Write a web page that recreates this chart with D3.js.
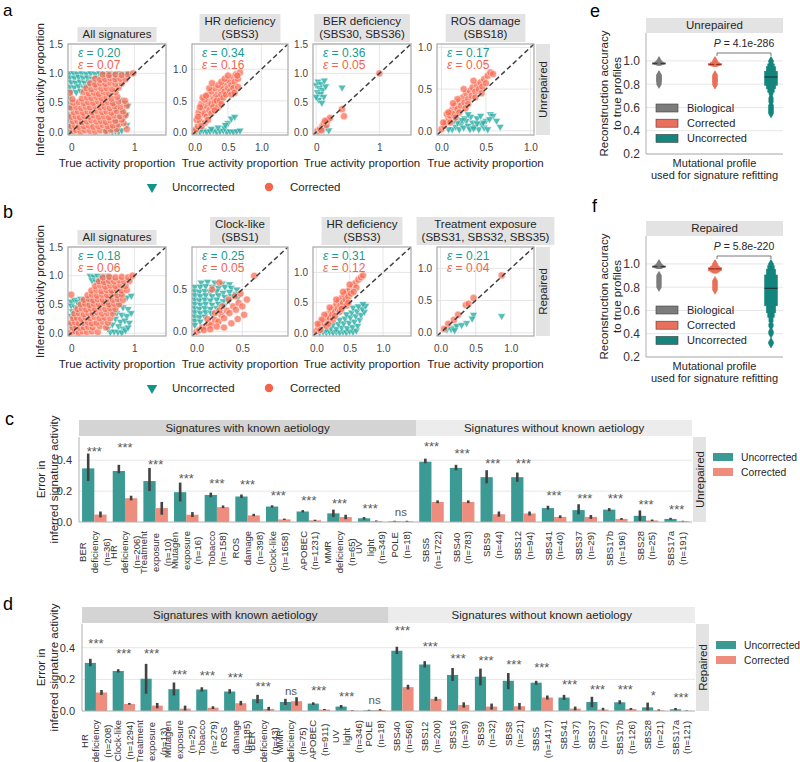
<!DOCTYPE html>
<html><head><meta charset="utf-8">
<script src="https://cdn.jsdelivr.net/npm/d3@7"></script>
<style>body{margin:0;background:#fff}</style></head>
<body><svg id="fig" width="800" height="762"></svg>
<script>
// ---------------- DATA ----------------
// scatter panels: [true, inferred]
const a1Unc=[[-0.03,1.0],[0.04,1.0],[0.1,0.99],[0.17,1.0],[0.24,0.99],[0.31,1.0],[0.38,0.99],[0.45,1.0],[0.52,0.99],[0.6,1.0],[0.68,0.99],[0.76,1.0],[0.84,0.99],[0.9,1.0],[-0.02,0.93],[0.05,0.92],[0.12,0.94],[0.19,0.92],[0.26,0.93],[0.33,0.91],[0.42,0.93],[0.5,0.92],[0.58,0.94],[0.7,0.93],[0.0,0.85],[0.07,0.84],[0.14,0.86],[0.21,0.84],[0.28,0.86],[0.36,0.85],[-0.02,0.77],[0.05,0.76],[0.12,0.78],[0.2,0.76],[0.27,0.79],[0.0,0.69],[0.08,0.68],[0.15,0.7],[-0.03,0.6],[-0.03,0.5],[-0.02,0.41],[-0.03,0.3],[-0.02,0.2],[-0.03,0.1],[-0.02,0.02],[0.55,0.02],[0.6,0.03],[0.65,0.01],[0.7,0.02],[0.75,0.01],[0.8,0.03],[0.62,0.08],[0.72,0.1],[0.65,0.5],[0.72,0.45],[0.78,0.55],[0.85,0.5],[0.9,0.45],[0.7,0.38],[0.8,0.35],[0.87,0.3],[0.75,0.25],[0.83,0.22],[0.7,0.18],[0.88,0.12]];
const a1Corr=[[0.02,0.02],[0.08,0.03],[0.15,0.01],[0.22,0.03],[0.3,0.02],[0.38,0.01],[0.46,0.03],[0.55,0.02],[0.63,0.04],[0.72,0.05],[0.88,0.05],[0.0,0.1],[0.06,0.11],[0.12,0.09],[0.2,0.1],[0.28,0.11],[0.35,0.09],[0.43,0.1],[0.5,0.12],[0.58,0.1],[0.66,0.11],[0.75,0.13],[0.83,0.15],[0.03,0.18],[0.1,0.19],[0.17,0.17],[0.25,0.18],[0.32,0.2],[0.4,0.18],[0.47,0.19],[0.55,0.17],[0.62,0.2],[0.7,0.19],[0.8,0.21],[0.0,0.26],[0.07,0.27],[0.14,0.25],[0.21,0.27],[0.29,0.26],[0.36,0.28],[0.44,0.26],[0.52,0.27],[0.6,0.25],[0.68,0.28],[0.77,0.27],[0.86,0.29],[0.04,0.34],[0.11,0.35],[0.19,0.33],[0.26,0.35],[0.33,0.34],[0.41,0.36],[0.49,0.34],[0.56,0.35],[0.64,0.33],[0.72,0.36],[0.82,0.35],[0.0,0.42],[0.08,0.43],[0.16,0.41],[0.23,0.43],[0.3,0.42],[0.38,0.44],[0.46,0.42],[0.53,0.43],[0.61,0.41],[0.69,0.44],[0.78,0.43],[0.88,0.45],[0.03,0.5],[0.12,0.51],[0.2,0.49],[0.27,0.51],[0.35,0.5],[0.43,0.52],[0.5,0.5],[0.58,0.51],[0.66,0.49],[0.75,0.52],[0.85,0.53],[0.02,0.56],[0.17,0.57],[0.25,0.59],[0.32,0.58],[0.4,0.6],[0.48,0.58],[0.56,0.59],[0.64,0.57],[0.73,0.6],[-0.02,0.67],[0.2,0.68],[0.28,0.66],[0.36,0.67],[0.44,0.65],[0.52,0.68],[0.6,0.66],[0.7,0.68],[0.24,0.75],[0.32,0.73],[0.4,0.76],[0.48,0.74],[0.56,0.75],[0.65,0.73],[0.75,0.76],[0.3,0.83],[0.38,0.81],[0.46,0.83],[0.54,0.82],[0.62,0.84],[0.7,0.82],[0.8,0.83],[0.38,0.91],[0.46,0.89],[0.54,0.9],[0.62,0.92],[0.7,0.9],[0.78,0.91],[0.86,0.9],[0.5,0.98],[0.6,0.97],[0.7,0.98],[0.8,0.97],[0.9,0.98],[0.98,1.0]];
const a2Unc=[[0.03,0.02],[0.08,0.01],[0.13,0.03],[0.18,0.01],[0.23,0.02],[0.28,0.03],[0.33,0.01],[0.38,0.02],[0.43,0.03],[0.48,0.01],[0.53,0.02],[0.58,0.01],[0.63,0.02],[0.68,0.03],[0.1,0.05],[0.25,0.06],[0.45,0.07],[0.5,0.15],[0.55,0.22],[0.6,0.25],[0.46,0.12],[0.35,0.08]];
const a2Corr=[[0.0,0.02],[0.02,0.05],[0.05,0.1],[0.03,0.2],[0.08,0.18],[0.1,0.28],[0.06,0.32],[0.12,0.38],[0.15,0.3],[0.18,0.42],[0.1,0.45],[0.2,0.5],[0.15,0.52],[0.22,0.35],[0.25,0.45],[0.28,0.55],[0.2,0.6],[0.3,0.48],[0.32,0.6],[0.25,0.65],[0.35,0.55],[0.38,0.68],[0.3,0.7],[0.4,0.6],[0.42,0.72],[0.35,0.75],[0.45,0.65],[0.48,0.78],[0.4,0.8],[0.5,0.7],[0.52,0.82],[0.45,0.85],[0.55,0.75],[0.58,0.88],[0.5,0.9],[0.6,0.8],[0.62,0.92],[0.65,0.85],[0.68,0.95],[0.08,0.4],[0.12,0.55],[0.05,0.25],[0.18,0.25],[0.22,0.7],[0.28,0.4],[0.33,0.5],[0.38,0.5],[0.43,0.55],[0.47,0.6],[0.53,0.65],[0.58,0.7],[0.15,0.15],[0.25,0.3],[0.35,0.4],[0.1,0.1],[0.2,0.2],[0.3,0.35],[0.4,0.45],[0.55,0.6],[0.17,0.58],[0.26,0.78],[0.6,0.63],[0.65,0.72],[0.64,0.9]];
const a3Unc=[[0.0,0.8],[0.03,0.86],[0.08,0.82],[0.05,0.75],[0.1,0.72],[0.02,0.68],[0.07,0.65],[0.12,0.6],[0.04,0.55],[0.09,0.5],[0.15,0.78],[0.0,0.6],[0.13,0.88],[0.41,0.76],[0.05,0.02],[0.12,0.04],[0.2,0.03],[0.1,0.1],[0.16,0.08]];
const a3Corr=[[0.02,0.02],[0.06,0.05],[0.1,0.08],[0.12,0.15],[0.16,0.12],[0.18,0.2],[0.08,0.03],[0.22,0.24],[0.41,0.39],[0.44,0.27],[1.0,1.0],[0.14,0.19]];
const a4Unc=[[0.12,0.02],[0.16,0.05],[0.2,0.02],[0.22,0.08],[0.25,0.04],[0.28,0.12],[0.3,0.06],[0.32,0.02],[0.35,0.1],[0.38,0.05],[0.4,0.15],[0.42,0.02],[0.45,0.08],[0.48,0.04],[0.5,0.12],[0.52,0.02],[0.55,0.2],[0.58,0.18],[0.54,0.14],[0.18,0.1],[0.26,0.15],[0.33,0.17],[0.08,0.02],[0.14,0.12],[0.44,0.18],[0.36,0.03],[0.47,0.1],[0.23,0.13],[0.3,0.2],[0.4,0.09],[0.62,0.12],[0.66,0.05]];
const a4Corr=[[0.0,0.02],[0.03,0.06],[0.05,0.1],[0.08,0.14],[0.06,0.2],[0.1,0.18],[0.12,0.25],[0.14,0.2],[0.15,0.3],[0.18,0.26],[0.2,0.35],[0.22,0.3],[0.24,0.4],[0.26,0.34],[0.28,0.45],[0.3,0.38],[0.32,0.48],[0.34,0.42],[0.35,0.52],[0.38,0.47],[0.4,0.55],[0.42,0.5],[0.44,0.58],[0.46,0.53],[0.48,0.62],[0.5,0.57],[0.52,0.66],[0.55,0.7],[0.58,0.68],[0.1,0.1],[0.2,0.22],[0.3,0.32],[0.18,0.38],[0.25,0.5],[0.36,0.6],[0.08,0.22],[0.45,0.45],[0.02,0.1],[0.13,0.33],[0.16,0.16],[0.27,0.27],[0.38,0.4]];
const b1Unc=[[0.3,1.0],[0.36,0.98],[0.42,1.0],[0.48,0.97],[0.54,1.0],[0.6,0.98],[0.33,0.92],[0.39,0.9],[0.45,0.93],[0.51,0.9],[0.57,0.92],[0.63,0.95],[0.65,0.7],[0.72,0.65],[0.8,0.68],[0.88,0.62],[0.95,0.65],[0.75,0.6],[0.0,0.55],[0.05,0.58],[0.1,0.55],[0.15,0.6],[0.2,0.57],[0.25,0.6],[0.3,0.55],[0.0,0.48],[0.06,0.45],[0.12,0.5],[0.18,0.47],[0.24,0.52],[0.02,0.38],[0.08,0.35],[0.0,0.3],[0.05,0.25],[0.0,0.15],[0.03,0.08],[0.6,0.5],[0.68,0.45],[0.75,0.5],[0.82,0.45],[0.9,0.42],[0.65,0.38],[0.72,0.35],[0.8,0.32],[0.88,0.3],[0.95,0.35],[0.7,0.25],[0.78,0.2],[0.85,0.22],[0.92,0.18],[0.75,0.12],[0.82,0.08],[0.62,0.02],[0.68,0.03],[0.74,0.02],[0.8,0.01],[0.86,0.05],[0.9,0.1],[0.65,0.15],[0.58,0.08]];
const b1Corr=[[0.0,0.02],[0.06,0.03],[0.12,0.01],[0.18,0.03],[0.25,0.02],[0.33,0.03],[0.42,0.02],[0.02,0.1],[0.08,0.11],[0.14,0.09],[0.2,0.1],[0.27,0.11],[0.34,0.1],[0.45,0.12],[0.55,0.1],[0.0,0.18],[0.06,0.19],[0.12,0.17],[0.19,0.18],[0.26,0.19],[0.33,0.17],[0.4,0.18],[0.5,0.2],[0.58,0.18],[0.03,0.26],[0.09,0.27],[0.16,0.25],[0.23,0.27],[0.3,0.26],[0.37,0.28],[0.45,0.26],[0.53,0.27],[0.62,0.26],[0.05,0.34],[0.12,0.35],[0.2,0.33],[0.27,0.35],[0.34,0.34],[0.41,0.36],[0.49,0.34],[0.57,0.35],[0.66,0.34],[0.1,0.42],[0.17,0.43],[0.24,0.41],[0.31,0.43],[0.38,0.42],[0.46,0.44],[0.54,0.42],[0.62,0.43],[0.7,0.42],[0.15,0.5],[0.22,0.51],[0.29,0.49],[0.36,0.51],[0.44,0.5],[0.52,0.52],[0.6,0.5],[0.68,0.51],[0.76,0.5],[0.2,0.58],[0.28,0.59],[0.35,0.57],[0.42,0.59],[0.5,0.58],[0.58,0.6],[0.66,0.58],[0.74,0.59],[0.82,0.58],[0.0,0.67],[0.26,0.66],[0.33,0.67],[0.41,0.65],[0.49,0.67],[0.57,0.66],[0.65,0.68],[0.73,0.66],[0.8,0.67],[0.32,0.74],[0.4,0.75],[0.48,0.73],[0.56,0.75],[0.64,0.74],[0.72,0.76],[0.8,0.74],[0.88,0.75],[0.38,0.82],[0.46,0.83],[0.54,0.81],[0.62,0.83],[0.7,0.82],[0.78,0.84],[0.86,0.82],[0.44,0.9],[0.52,0.89],[0.6,0.91],[0.68,0.9],[0.76,0.92],[0.84,0.9],[0.92,0.91],[0.5,0.97],[0.6,0.98],[0.7,0.97],[0.8,0.98],[0.9,0.97],[0.97,1.0]];
const b2Unc=[[0.05,0.58],[0.12,0.59],[0.2,0.58],[0.28,0.57],[0.36,0.56],[-0.02,0.53],[0.04,0.53],[0.1,0.54],[0.17,0.53],[0.24,0.52],[0.31,0.53],[0.38,0.52],[0.44,0.5],[-0.02,0.48],[0.03,0.47],[0.09,0.48],[0.15,0.47],[0.22,0.48],[0.29,0.46],[0.36,0.47],[0.43,0.45],[-0.02,0.43],[0.04,0.42],[0.1,0.43],[0.17,0.42],[0.24,0.43],[0.31,0.41],[0.38,0.42],[0.45,0.4],[-0.02,0.38],[0.03,0.37],[0.09,0.38],[0.15,0.37],[0.22,0.38],[0.29,0.36],[0.36,0.37],[-0.02,0.33],[0.04,0.32],[0.1,0.33],[0.17,0.32],[0.24,0.33],[0.3,0.31],[-0.02,0.28],[0.03,0.27],[0.09,0.28],[0.15,0.27],[0.22,0.28],[-0.02,0.23],[0.04,0.22],[0.1,0.23],[0.16,0.22],[-0.02,0.18],[0.03,0.17],[0.09,0.18],[-0.02,0.13],[0.04,0.12],[-0.02,0.08]];
const b2Corr=[[0.0,0.0],[0.03,0.02],[0.06,0.05],[0.1,0.06],[0.13,0.1],[0.16,0.08],[0.2,0.14],[0.24,0.12],[0.27,0.2],[0.3,0.16],[0.33,0.25],[0.36,0.22],[0.4,0.3],[0.43,0.26],[0.46,0.34],[0.5,0.3],[0.08,0.02],[0.15,0.03],[0.22,0.06],[0.3,0.05],[0.38,0.1],[0.45,0.15],[0.52,0.2],[0.2,0.22],[0.28,0.3],[0.35,0.38],[0.42,0.42],[0.48,0.45],[0.25,0.58],[0.17,0.5],[0.63,0.66],[0.55,0.38],[0.12,0.15],[0.25,0.25]];
const b3Unc=[[0.05,0.01],[0.1,0.02],[0.15,0.01],[0.2,0.02],[0.25,0.01],[0.3,0.02],[0.35,0.01],[0.4,0.02],[0.45,0.01],[0.5,0.03],[0.55,0.02],[0.6,0.04],[0.15,0.06],[0.22,0.08],[0.3,0.07],[0.38,0.09],[0.46,0.08],[0.54,0.1],[0.62,0.12],[0.25,0.14],[0.33,0.15],[0.41,0.16],[0.49,0.17],[0.57,0.19],[0.65,0.22],[0.35,0.22],[0.43,0.24],[0.51,0.26],[0.59,0.28],[0.67,0.3],[0.72,0.35],[0.45,0.31],[0.53,0.34],[0.61,0.36],[0.69,0.4],[0.74,0.45],[0.55,0.42],[0.63,0.44],[0.7,0.48]];
const b3Corr=[[0.0,0.03],[0.03,0.08],[0.05,0.14],[0.08,0.1],[0.1,0.2],[0.12,0.15],[0.14,0.26],[0.16,0.2],[0.18,0.32],[0.2,0.25],[0.22,0.37],[0.24,0.3],[0.26,0.42],[0.28,0.35],[0.3,0.48],[0.32,0.4],[0.34,0.53],[0.36,0.45],[0.38,0.58],[0.4,0.5],[0.42,0.63],[0.44,0.55],[0.46,0.68],[0.48,0.6],[0.5,0.72],[0.52,0.65],[0.55,0.78],[0.58,0.82],[0.6,0.75],[0.63,0.88],[0.67,0.92],[0.7,0.95],[0.06,0.05],[0.15,0.12],[0.25,0.22],[0.35,0.35],[0.45,0.45],[0.12,0.3],[0.2,0.42],[0.3,0.55],[0.4,0.68],[0.5,0.8],[0.08,0.22],[0.18,0.15],[0.28,0.28],[0.38,0.4],[0.48,0.5],[0.56,0.68],[0.02,0.15]];
const b4Unc=[[0.09,0.05],[0.19,0.08],[0.23,0.11],[0.37,0.15],[0.47,0.28],[0.87,0.26],[0.15,0.06],[0.3,0.12],[0.45,0.22],[0.2,0.04]];
const b4Corr=[[0.11,0.14],[0.19,0.2],[0.36,0.43],[0.4,0.45],[0.47,0.54],[0.87,0.89],[0.05,0.06],[0.25,0.28]];

const titlesA=[["All signatures"],["HR deficiency","(SBS3)"],["BER deficiency","(SBS30, SBS36)"],["ROS damage","(SBS18)"]];
const titlesB=[["All signatures"],["Clock-like","(SBS1)"],["HR deficiency","(SBS3)"],["Treatment exposure","(SBS31, SBS32, SBS35)"]];
const epsUncA=[0.20,0.34,0.36,0.17], epsCorA=[0.07,0.16,0.05,0.05];
const epsUncB=[0.18,0.25,0.31,0.21], epsCorB=[0.06,0.05,0.12,0.04];
const limitsA=[[-0.05,1.5],[-0.04,1.4],[-0.05,1.5],[-0.05,1.04]];
const limitsB=[[-0.05,1.5],[-0.05,1.0],[-0.05,1.42],[-0.05,1.33]];
const ticksA=[[0,1],[0,0.5,1],[0,1],[0,0.5,1]], yticksA=[[0,0.5,1,1.5],[0,0.5,1],[0,0.5,1,1.5],[0,0.5,1]];
const ticksB=[[0,1],[0,0.5],[0,0.5,1],[0,0.5,1]], yticksB=[[0,0.5,1,1.5],[0,0.5],[0,0.5,1],[0,0.5,1]];

// bar panel c (Unrepaired)
const catsC=["BER|deficiency|(n=36)","HR|deficiency|(n=206)","Treatment|exposure|(n=10)","Mutagen|exposure|(n=16)","Tobacco|(n=158)","ROS|damage|(n=398)","Clock-like|(n=1658)","APOBEC|(n=1231)","MMR|deficiency|(n=65)","UV|light|(n=349)","POLE|(n=18)","SBS5|(n=1722)","SBS40|(n=783)","SBS9|(n=44)","SBS12|(n=94)","SBS41|(n=40)","SBS37|(n=29)","SBS17b|(n=196)","SBS28|(n=25)","SBS17a|(n=191)"];
const uncC=[0.347,0.33,0.265,0.193,0.175,0.165,0.1,0.068,0.056,0.024,0.004,0.39,0.35,0.29,0.29,0.09,0.077,0.08,0.04,0.02];
const uncCLo=[0.265,0.315,0.2,0.133,0.16,0.155,0.093,0.062,0.032,0.016,0.001,0.38,0.335,0.25,0.26,0.08,0.05,0.07,0.008,0.015];
const uncCHi=[0.443,0.37,0.35,0.255,0.19,0.178,0.108,0.077,0.08,0.032,0.008,0.41,0.37,0.335,0.32,0.105,0.115,0.09,0.075,0.027];
const corC=[0.048,0.154,0.09,0.047,0.096,0.043,0.017,0.011,0.032,0.006,0.004,0.13,0.13,0.05,0.055,0.033,0.033,0.02,0.01,0.005];
const corCLo=[0.03,0.14,0.047,0.032,0.09,0.037,0.013,0.007,0.018,0.003,0.0,0.122,0.122,0.035,0.042,0.025,0.02,0.014,0.005,0.002];
const corCHi=[0.068,0.17,0.13,0.064,0.107,0.053,0.022,0.015,0.047,0.01,0.008,0.14,0.14,0.068,0.068,0.043,0.045,0.026,0.016,0.008];
const sigC=["***","***","***","***","***","***","***","***","***","***","ns","***","***","***","***","***","***","***","***","***"];
const sigCY=[0.475,0.50,0.39,0.30,0.27,0.26,0.19,0.16,0.14,0.107,0.062,0.51,0.46,0.40,0.40,0.19,0.17,0.17,0.13,0.10];
// bar panel d (Repaired)
const catsD=["HR|deficiency|(n=208)","Clock-like|(n=1294)","Treatment|exposure|(n=13)","Mutagen|exposure|(n=25)","Tobacco|(n=279)","ROS|damage|(n=185)","BER|deficiency|(n=43)","MMR|deficiency|(n=75)","APOBEC|(n=911)","UV|light|(n=346)","POLE|(n=18)","SBS40|(n=566)","SBS12|(n=200)","SBS16|(n=39)","SBS9|(n=32)","SBS8|(n=21)","SBS5|(n=1417)","SBS41|(n=37)","SBS37|(n=27)","SBS17b|(n=126)","SBS28|(n=21)","SBS17a|(n=121)"];
const uncD=[0.304,0.253,0.204,0.138,0.136,0.123,0.075,0.057,0.047,0.028,0.004,0.381,0.294,0.228,0.217,0.191,0.179,0.085,0.057,0.055,0.023,0.011];
const uncDLo=[0.283,0.243,0.109,0.098,0.123,0.11,0.049,0.038,0.038,0.017,0.001,0.36,0.275,0.19,0.162,0.138,0.166,0.07,0.024,0.043,0.0,0.003];
const uncDHi=[0.33,0.264,0.298,0.18,0.15,0.138,0.102,0.077,0.055,0.038,0.008,0.406,0.315,0.272,0.268,0.24,0.191,0.102,0.09,0.068,0.053,0.019];
const corD=[0.117,0.045,0.034,0.015,0.021,0.049,0.013,0.062,0.009,0.002,0.006,0.151,0.077,0.038,0.028,0.03,0.085,0.015,0.009,0.013,0.004,0.001];
const corDLo=[0.102,0.04,0.017,0.0,0.013,0.036,0.0,0.034,0.005,0.0,0.0,0.136,0.064,0.021,0.009,0.009,0.072,0.002,0.002,0.007,0.0,0.0];
const corDHi=[0.133,0.051,0.051,0.034,0.03,0.064,0.026,0.087,0.013,0.005,0.012,0.166,0.09,0.055,0.047,0.051,0.098,0.028,0.02,0.019,0.01,0.004];
const sigD=["***","***","***","***","***","***","***","ns","***","***","ns","***","***","***","***","***","***","***","***","***","*","***"];
const sigDY=[0.447,0.385,0.385,0.25,0.245,0.23,0.172,0.123,0.151,0.113,0.066,0.528,0.428,0.349,0.34,0.31,0.296,0.187,0.157,0.157,0.115,0.102];

// boxen panels e/f
const groupsEF=["Biological","Corrected","Uncorrected"];
const medE=[0.978,0.97,0.862];
const levelsE=[[[0.972,0.984],[0.968,0.99],[0.965,0.995],[0.962,1.0]],[[0.963,0.977],[0.958,0.985],[0.955,0.992],[0.952,1.0]],[[0.79,0.912],[0.76,0.95],[0.73,0.975],[0.71,0.99],[0.69,1.0]]];
const outE=[[1.0,0.998,0.88,0.875,0.87,0.865,0.86,0.855,0.85,0.845,0.84,0.835,0.83,0.825,0.82,0.81,0.8],[1.0,0.998,0.88,0.872,0.866,0.86,0.854,0.848,0.842,0.836,0.83,0.824,0.818,0.81,0.8,0.795],[1.0,0.998,0.68,0.665,0.65,0.62,0.612,0.604,0.596,0.588,0.58,0.572,0.564,0.556,0.548]];
const medF=[0.977,0.958,0.79];
const levelsF=[[[0.97,0.983],[0.966,0.99],[0.962,0.996],[0.958,1.0]],[[0.94,0.97],[0.93,0.98],[0.925,0.99],[0.92,1.0]],[[0.64,0.905],[0.58,0.955],[0.54,0.985],[0.5,1.0]]];
const outF=[[1.0,0.998,0.9,0.89,0.88,0.87,0.86,0.85,0.84,0.83,0.82,0.81,0.8],[1.0,0.998,0.855,0.848,0.84,0.832,0.824,0.816,0.808,0.8,0.792,0.784,0.776],[1.0,0.998,0.48,0.465,0.42,0.41,0.4,0.33,0.32,0.315]];
const pValE="4.1e-286", pValF="5.8e-220";

// ---------------- DRAWING ----------------
const FONT='"Liberation Sans", Arial, Helvetica, sans-serif';
const TXT="#262626";
const svg=d3.select("#fig");
const TEAL_PT="#22aaa1", RED_PT="#fa6a50", TEAL="#179a91", TOMATO="#f4644a";
const BAR_T="#3c9a94", BAR_R="#ee8d7d";

function txt(g,x,y,s,size,opt={}){
  const t=g.append("text").attr("x",x).attr("y",y).attr("font-family",FONT).attr("font-size",size).attr("fill",opt.fill||TXT).text(s);
  if(opt.anchor) t.attr("text-anchor",opt.anchor);
  if(opt.rot!==undefined) t.attr("transform",`rotate(${opt.rot},${x},${y})`);
  if(opt.base) t.attr("dominant-baseline",opt.base);
  if(opt.italic) t.attr("font-style","italic");
  return t;
}
let clipId=0;
function scatter(p){
  const [lo,hi]=p.lim;
  const x=d3.scaleLinear().domain([lo,hi]).range([p.x0,p.x1]);
  const y=d3.scaleLinear().domain([lo,hi]).range([p.y1,p.y0]);
  const g=svg.append("g");
  g.append("g").selectAll("line").data(p.xt).join("line").attr("x1",d=>x(d)).attr("x2",d=>x(d)).attr("y1",p.y0).attr("y2",p.y1).attr("stroke","#e6e6e6");
  g.append("g").selectAll("line").data(p.yt).join("line").attr("y1",d=>y(d)).attr("y2",d=>y(d)).attr("x1",p.x0).attr("x2",p.x1).attr("stroke","#e6e6e6");
  const xf=p.xt.length===2&&p.xt[1]===1?d3.format("d"):d3.format(".1f");
  const ax=g.append("g").attr("transform",`translate(0,${p.y1})`).call(d3.axisBottom(x).tickValues(p.xt).tickFormat(xf).tickSize(0).tickPadding(9));
  ax.select(".domain").remove();
  ax.selectAll("text").attr("font-family",FONT).attr("font-size",10).attr("fill","#444");
  const ay=g.append("g").attr("transform",`translate(${p.x0},0)`).call(d3.axisLeft(y).tickValues(p.yt).tickFormat(d3.format(".1f")).tickSize(0).tickPadding(5));
  ay.select(".domain").remove();
  ay.selectAll("text").attr("font-family",FONT).attr("font-size",10).attr("fill","#444");
  const id="clip"+(clipId++);
  g.append("clipPath").attr("id",id).append("rect").attr("x",p.x0).attr("y",p.y0).attr("width",p.x1-p.x0).attr("height",p.y1-p.y0);
  const pts=g.append("g").attr("clip-path",`url(#${id})`);
  const tri=d3.symbol(d3.symbolTriangle,26)();
  pts.append("g").selectAll("path").data(p.unc).join("path").attr("d",tri)
    .attr("transform",d=>`translate(${x(d[0])},${y(d[1])}) rotate(180)`)
    .attr("fill",TEAL_PT).attr("fill-opacity",0.78).attr("stroke","#fff").attr("stroke-width",0.4);
  pts.append("g").selectAll("circle").data(p.cor).join("circle").attr("cx",d=>x(d[0])).attr("cy",d=>y(d[1])).attr("r",3.6)
    .attr("fill",RED_PT).attr("fill-opacity",0.72).attr("stroke","#fff").attr("stroke-width",0.5);
  pts.append("line").attr("x1",x(lo)).attr("y1",y(lo)).attr("x2",x(hi)).attr("y2",y(hi)).attr("stroke","#404040").attr("stroke-width",1.5).attr("stroke-dasharray","5,3");
  g.append("rect").attr("x",p.x0).attr("y",p.y0).attr("width",p.x1-p.x0).attr("height",p.y1-p.y0).attr("fill","none").attr("stroke","#a8a8a8").attr("stroke-width",1.2);
  const e1=txt(g,p.x0+10,p.y0+12.5,"",12,{fill:TEAL});
  e1.append("tspan").attr("font-style","italic").text("ε"); e1.append("tspan").text(" = "+p.eU.toFixed(2));
  const e2=txt(g,p.x0+10,p.y0+25,"",12,{fill:TOMATO});
  e2.append("tspan").attr("font-style","italic").text("ε"); e2.append("tspan").text(" = "+p.eC.toFixed(2));
  const cx=(p.x0+p.x1)/2, n=p.title.length;
  const tg=g.append("g");
  const ts=p.title.map((s,i)=>txt(tg,cx,p.y0-2-4-(n-1-i)*13,s,11.5,{anchor:"middle"}));
  const w=d3.max(ts,t=>t.node().getComputedTextLength())+10;
  tg.insert("rect","text").attr("x",cx-w/2).attr("y",p.y0-2-(n===1?15:28)).attr("width",w).attr("height",n===1?15:28).attr("fill","#e3e3e3");
  txt(g,cx,p.y1+32,"True activity proportion",11.5,{anchor:"middle"});
}
const colsX=[[68,166],[192,288],[313,411],[437,534]];
const dataA=[[a1Unc,a1Corr],[a2Unc,a2Corr],[a3Unc,a3Corr],[a4Unc,a4Corr]];
const dataB=[[b1Unc,b1Corr],[b2Unc,b2Corr],[b3Unc,b3Corr],[b4Unc,b4Corr]];
function scatterRow(y0,y1,titles,eU,eC,lims,xt,yt,data,strip,legY){
  for(let i=0;i<4;i++) scatter({x0:colsX[i][0],x1:colsX[i][1],y0,y1,lim:lims[i],xt:xt[i],yt:yt[i],title:titles[i],eU:eU[i],eC:eC[i],unc:data[i][0],cor:data[i][1]});
  svg.append("rect").attr("x",536).attr("y",y0).attr("width",14).attr("height",y1-y0).attr("fill","#e3e3e3");
  txt(svg,543,(y0+y1)/2,strip,11.5,{anchor:"middle",base:"central",rot:-90});
  txt(svg,40,(y0+y1)/2,"Inferred activity proportion",11.5,{anchor:"middle",base:"central",rot:-90});
  svg.append("path").attr("d",d3.symbol(d3.symbolTriangle,48)()).attr("transform",`translate(152,${legY}) rotate(180)`).attr("fill","#12948b");
  txt(svg,172,legY+4,"Uncorrected",11.5);
  svg.append("circle").attr("cx",269).attr("cy",legY).attr("r",4.2).attr("fill",TOMATO);
  txt(svg,290,legY+4,"Corrected",11.5);
}
scatterRow(44,135,titlesA,epsUncA,epsCorA,limitsA,ticksA,yticksA,dataA,"Unrepaired",187);
scatterRow(247,336,titlesB,epsUncB,epsCorB,limitsB,ticksB,yticksB,dataB,"Repaired",388);

// bar panels
function barPanel(p){
  const n=p.cats.length;
  const x=d3.scaleBand().domain(d3.range(n)).range([p.x0,p.x1]);
  const bw=x.bandwidth();
  const sub=d3.scaleBand().domain([0,1]).range([0.1*bw,0.9*bw]);
  const y=d3.scaleLinear().domain([0,0.55]).range([p.y1,p.y0]);
  const g=svg.append("g");
  g.append("g").selectAll("line").data([0.2,0.4]).join("line").attr("x1",p.x0).attr("x2",p.x1).attr("y1",d=>y(d)).attr("y2",d=>y(d)).attr("stroke","#e6e6e6");
  const xk=x(p.nKnown);
  g.append("rect").attr("x",p.x0).attr("y",p.y0-17).attr("width",xk-p.x0).attr("height",16).attr("fill","#d4d4d4");
  g.append("rect").attr("x",xk).attr("y",p.y0-17).attr("width",p.x1-xk).attr("height",16).attr("fill","#ececec");
  txt(g,(p.x0+xk)/2,p.y0-5,"Signatures with known aetiology",11.5,{anchor:"middle"});
  txt(g,(xk+p.x1)/2,p.y0-5,"Signatures without known aetiology",11.5,{anchor:"middle"});
  g.append("rect").attr("x",p.x1+1).attr("y",p.y0).attr("width",13).attr("height",p.y1-p.y0).attr("fill","#e3e3e3");
  txt(g,p.x1+7.5,(p.y0+p.y1)/2,p.strip,11.5,{anchor:"middle",base:"central",rot:-90});
  const series=[[p.unc,p.uncLo,p.uncHi,BAR_T],[p.cor,p.corLo,p.corHi,BAR_R]];
  series.forEach((s,k)=>{
    g.append("g").selectAll("rect").data(s[0]).join("rect")
      .attr("x",(d,i)=>x(i)+sub(k)).attr("width",sub.bandwidth()).attr("y",d=>y(d)).attr("height",d=>y(0)-y(d)).attr("fill",s[3]);
  });
  series.forEach((s,k)=>{
    g.append("g").selectAll("line").data(s[0]).join("line")
      .attr("x1",(d,i)=>x(i)+sub(k)+sub.bandwidth()/2).attr("x2",(d,i)=>x(i)+sub(k)+sub.bandwidth()/2)
      .attr("y1",(d,i)=>y(s[1][i])).attr("y2",(d,i)=>y(s[2][i])).attr("stroke","#424242").attr("stroke-width",2.6);
  });
  p.sig.forEach((s,i)=>{
    const star=s!=="ns";
    txt(g,x(i)+bw/2,y(p.sigY[i])+(star?7.5:3.5),s,star?13:11.5,{anchor:"middle",fill:"#5a5a5a"});
  });
  g.append("line").attr("x1",p.x0).attr("x2",p.x0).attr("y1",p.y0).attr("y2",p.y1).attr("stroke","#b0b0b0");
  g.append("line").attr("x1",p.x0).attr("x2",p.x1).attr("y1",p.y1).attr("y2",p.y1).attr("stroke","#b0b0b0");
  const ay=g.append("g").attr("transform",`translate(${p.x0},0)`).call(d3.axisLeft(y).tickValues([0,0.2,0.4]).tickFormat(d3.format(".1f")).tickSize(0).tickPadding(7));
  ay.select(".domain").remove();
  ay.selectAll("text").attr("font-family",FONT).attr("font-size",11).attr("fill","#333");
  const ax=g.append("g").attr("transform",`translate(0,${p.y1})`).call(d3.axisBottom(x).tickSize(0).tickFormat(()=>""));
  ax.select(".domain").remove();
  ax.selectAll(".tick").each(function(d){
    const tk=d3.select(this); tk.select("text").remove();
    const lines=p.cats[d].split("|");
    const ts=lines.map(l=>tk.append("text").attr("font-family",FONT).attr("font-size",9.5).attr("fill","#333").attr("text-anchor","middle").attr("dominant-baseline","central").text(l));
    const L=d3.max(ts,t=>t.node().getComputedTextLength());
    const nl=lines.length, lh=11.7;
    ts.forEach((t,i)=>t.attr("transform",`translate(${(i-(nl-1)/2)*lh},${9+L/2}) rotate(-90)`));
  });
  txt(g,41,(p.y0+p.y1)/2,"Error in",11.5,{anchor:"middle",base:"central",rot:-90});
  txt(g,54,(p.y0+p.y1)/2,"inferred signature activity",11.5,{anchor:"middle",base:"central",rot:-90});
  g.append("rect").attr("x",p.legX).attr("y",p.legY-4).attr("width",20).attr("height",8).attr("fill",BAR_T);
  txt(g,p.legX+28,p.legY+4,"Uncorrected",10.3);
  g.append("rect").attr("x",p.legX).attr("y",p.legY+11).attr("width",20).attr("height",8).attr("fill",BAR_R);
  txt(g,p.legX+28,p.legY+19,"Corrected",10.3);
}
barPanel({x0:79,x1:692,y0:437,y1:522,cats:catsC,unc:uncC,uncLo:uncCLo,uncHi:uncCHi,cor:corC,corLo:corCLo,corHi:corCHi,sig:sigC,sigY:sigCY,nKnown:11,strip:"Unrepaired",legX:713,legY:457});
barPanel({x0:82,x1:695,y0:624,y1:711,cats:catsD,unc:uncD,uncLo:uncDLo,uncHi:uncDHi,cor:corD,corLo:corDLo,corHi:corDHi,sig:sigD,sigY:sigDY,nKnown:11,strip:"Repaired",legX:716,legY:645});

// boxen panels
const GCOL=["#7c7c7c","#e9705a","#14857d"], MCOL=["#3a3a3a","#9e2f1f","#1d3f3c"];
function boxenPanel(p){
  const y=d3.scaleLinear().domain([0.2,1.24]).range([p.y1,p.y0]);
  const x=d3.scalePoint().domain(groupsEF).range([659,771]);
  const g=svg.append("g");
  g.append("g").selectAll("line").data([0.2,0.4,0.6,0.8,1.0]).join("line").attr("x1",646).attr("x2",783).attr("y1",d=>y(d)).attr("y2",d=>y(d)).attr("stroke","#e6e6e6");
  g.append("rect").attr("x",646).attr("y",p.y0-15).attr("width",137).attr("height",15).attr("fill","#e3e3e3");
  txt(g,714.5,p.y0-4,p.strip,11.5,{anchor:"middle"});
  const widths=[1,0.72,0.5,0.32,0.2], W=13;
  groupsEF.forEach((grp,gi)=>{
    const cx=x(grp);
    const lv=p.levels[gi];
    for(let i=lv.length-1;i>=0;i--){
      const w=W*widths[i];
      g.append("rect").attr("x",cx-w/2).attr("width",w).attr("y",y(lv[i][1])).attr("height",Math.max(1,y(lv[i][0])-y(lv[i][1]))).attr("fill",GCOL[gi]).attr("stroke",GCOL[gi]).attr("stroke-width",0.5);
    }
    g.append("line").attr("x1",cx-W/2).attr("x2",cx+W/2).attr("y1",y(p.med[gi])).attr("y2",y(p.med[gi])).attr("stroke",MCOL[gi]).attr("stroke-width",1.3);
    g.append("g").selectAll("path").data(p.out[gi]).join("path").attr("d",d3.symbol(d3.symbolDiamond,22)())
      .attr("transform",d=>`translate(${cx},${y(d)})`).attr("fill",GCOL[gi]).attr("stroke",GCOL[gi]).attr("stroke-width",0.4);
  });
  g.append("line").attr("x1",646).attr("x2",646).attr("y1",p.y0).attr("y2",p.y1).attr("stroke","#b0b0b0");
  g.append("line").attr("x1",646).attr("x2",783).attr("y1",p.y1).attr("y2",p.y1).attr("stroke","#b0b0b0");
  const ay=g.append("g").attr("transform","translate(646,0)").call(d3.axisLeft(y).tickValues([0.2,0.4,0.6,0.8,1.0]).tickFormat(d3.format(".1f")).tickSize(0).tickPadding(6));
  ay.select(".domain").remove();
  ay.selectAll("text").attr("font-family",FONT).attr("font-size",12).attr("fill","#333");
  const bx0=x("Corrected")+2, bx1=x("Uncorrected"), by=p.y0+20;
  g.append("path").attr("d",`M${bx0},${by+3}V${by}H${bx1}V${by+3}`).attr("fill","none").attr("stroke","#555").attr("stroke-width",0.8);
  const pt=txt(g,(bx0+bx1)/2,by-6,"",10.5,{anchor:"middle"});
  pt.append("tspan").attr("font-style","italic").text("P"); pt.append("tspan").text(" = "+p.pval);
  ["Biological","Corrected","Uncorrected"].forEach((s,i)=>{
    const ly=p.legY+i*15.2;
    g.append("rect").attr("x",656).attr("y",ly-4).attr("width",22).attr("height",8).attr("fill",GCOL[i]).attr("stroke","#404040").attr("stroke-width",0.6);
    txt(g,687,ly+4,s,11);
  });
  txt(g,714.5,p.y1+13,"Mutational profile",11,{anchor:"middle"});
  txt(g,714.5,p.y1+25,"used for signature refitting",11,{anchor:"middle"});
  txt(g,604,(p.y0+p.y1)/2,"Reconstruction accuracy",11.5,{anchor:"middle",base:"central",rot:-90});
  txt(g,617,(p.y0+p.y1)/2,"to true profiles",11.5,{anchor:"middle",base:"central",rot:-90});
}
boxenPanel({y0:33,y1:154,strip:"Unrepaired",med:medE,levels:levelsE,out:outE,pval:pValE,legY:108});
boxenPanel({y0:236,y1:357,strip:"Repaired",med:medF,levels:levelsF,out:outF,pval:pValF,legY:310});

[["a",3,16,17],["b",3,218,18],["c",5,425,18],["d",3,610,18],["e",590,17,18],["f",592,212,18]].forEach(l=>txt(svg,l[1],l[2],l[0],l[3],{fill:"#000"}));
</script></body></html>
